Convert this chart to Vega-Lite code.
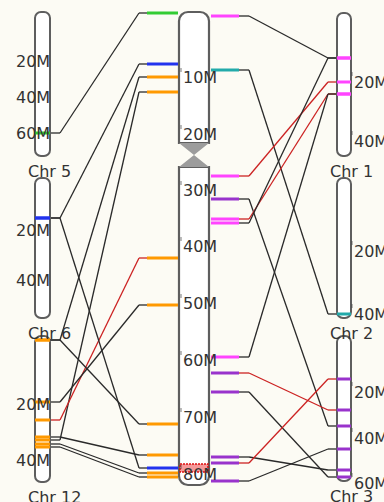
{
"$schema": "https://vega.github.io/schema/vega-lite/v6.json",
"width": 384, "height": 502,
"autosize": {"type": "fit", "contains": "padding"},
"padding": 0,
"background": "#fcfbf4",
"config": {"view": {"stroke": null}, "text": {"font": "DejaVu Sans"}},
"datasets": {
"chroms": [
{"name": "Chr 5", "col": "L", "start": 12, "end": 156},
{"name": "Chr 6", "col": "L", "start": 178, "end": 318},
{"name": "Chr 12", "col": "L", "start": 336, "end": 482},
{"name": "Chr 1", "col": "R", "start": 13, "end": 156},
{"name": "Chr 2", "col": "R", "start": 178, "end": 318},
{"name": "Chr 3", "col": "R", "start": 336, "end": 481}
],
"arms": [{"arm": "p", "start": 12, "end": 143}, {"arm": "q", "start": 167, "end": 485}],
"centro": [{"pos": 155}],
"band": [{"start": 464, "end": 472}],
"links": [
{"side": "L", "c": 13, "o": 133, "chr": "5", "dir": "+"},
{"side": "L", "c": 64, "o": 218, "chr": "6", "dir": "+"},
{"side": "L", "c": 77, "o": 340, "chr": "12", "dir": "+"},
{"side": "L", "c": 92, "o": 440, "chr": "12", "dir": "+"},
{"side": "L", "c": 258, "o": 420, "chr": "12", "dir": "-"},
{"side": "L", "c": 305, "o": 402, "chr": "12", "dir": "+"},
{"side": "L", "c": 424, "o": 340, "chr": "12", "dir": "+"},
{"side": "L", "c": 455, "o": 437, "chr": "12", "dir": "+"},
{"side": "L", "c": 468, "o": 218, "chr": "6", "dir": "+"},
{"side": "L", "c": 473, "o": 444, "chr": "12", "dir": "+"},
{"side": "L", "c": 477, "o": 447, "chr": "12", "dir": "+"},
{"side": "R", "c": 16, "o": 58, "chr": "1", "dir": "+"},
{"side": "R", "c": 70, "o": 314, "chr": "2", "dir": "+"},
{"side": "R", "c": 176, "o": 82, "chr": "1", "dir": "-"},
{"side": "R", "c": 199, "o": 426, "chr": "3", "dir": "+"},
{"side": "R", "c": 219, "o": 94, "chr": "1", "dir": "-"},
{"side": "R", "c": 223, "o": 58, "chr": "1", "dir": "+"},
{"side": "R", "c": 357, "o": 94, "chr": "1", "dir": "+"},
{"side": "R", "c": 373, "o": 410, "chr": "3", "dir": "-"},
{"side": "R", "c": 392, "o": 477, "chr": "3", "dir": "+"},
{"side": "R", "c": 457, "o": 470, "chr": "3", "dir": "+"},
{"side": "R", "c": 463, "o": 379, "chr": "3", "dir": "-"},
{"side": "R", "c": 481, "o": 449, "chr": "3", "dir": "+"}
],
"ticks": [
{"col": "C", "y": 78, "label": "10M"}, {"col": "C", "y": 135, "label": "20M"},
{"col": "C", "y": 191, "label": "30M"}, {"col": "C", "y": 247, "label": "40M"},
{"col": "C", "y": 304, "label": "50M"}, {"col": "C", "y": 361, "label": "60M"},
{"col": "C", "y": 418, "label": "70M"}, {"col": "C", "y": 475, "label": "80M"},
{"col": "L", "y": 62, "label": "20M"}, {"col": "L", "y": 98, "label": "40M"}, {"col": "L", "y": 134, "label": "60M"},
{"col": "L", "y": 231, "label": "20M"}, {"col": "L", "y": 281, "label": "40M"},
{"col": "L", "y": 405, "label": "20M"}, {"col": "L", "y": 461, "label": "40M"},
{"col": "R", "y": 83, "label": "20M"}, {"col": "R", "y": 142, "label": "40M"},
{"col": "R", "y": 252, "label": "20M"}, {"col": "R", "y": 315, "label": "40M"},
{"col": "R", "y": 393, "label": "20M"}, {"col": "R", "y": 439, "label": "40M"}, {"col": "R", "y": 484, "label": "60M"}
]
},
"layer": [
{"data": {"name": "links"}, "transform": [{"filter": "datum.side === 'L'"}],
 "mark": {"type": "rule", "strokeWidth": 1.3},
 "encoding": {
  "x": {"datum": 139, "type": "quantitative", "scale": {"domain": [0, 384], "nice": false, "zero": false}, "axis": null},
  "x2": {"datum": 60},
  "y": {"field": "c", "type": "quantitative", "scale": {"domain": [0, 502], "nice": false, "zero": false, "reverse": true}, "axis": null},
  "y2": {"field": "o"},
  "stroke": {"field": "dir", "type": "nominal", "scale": {"domain": ["+", "-"], "range": ["#2a2a2a", "#cc2222"]}, "legend": null}}},
{"data": {"name": "links"}, "transform": [{"filter": "datum.side === 'L'"}],
 "mark": {"type": "rule", "strokeWidth": 1.3},
 "encoding": {
  "x": {"datum": 139, "type": "quantitative", "scale": {"domain": [0, 384], "nice": false, "zero": false}, "axis": null},
  "x2": {"datum": 148},
  "y": {"field": "c", "type": "quantitative", "scale": {"domain": [0, 502], "nice": false, "zero": false, "reverse": true}, "axis": null},
  "stroke": {"field": "dir", "type": "nominal", "scale": {"domain": ["+", "-"], "range": ["#2a2a2a", "#cc2222"]}, "legend": null}}},
{"data": {"name": "links"}, "transform": [{"filter": "datum.side === 'L'"}],
 "mark": {"type": "rule", "strokeWidth": 1.3},
 "encoding": {
  "x": {"datum": 49, "type": "quantitative", "scale": {"domain": [0, 384], "nice": false, "zero": false}, "axis": null},
  "x2": {"datum": 60},
  "y": {"field": "o", "type": "quantitative", "scale": {"domain": [0, 502], "nice": false, "zero": false, "reverse": true}, "axis": null},
  "stroke": {"field": "dir", "type": "nominal", "scale": {"domain": ["+", "-"], "range": ["#2a2a2a", "#cc2222"]}, "legend": null}}},
{"data": {"name": "links"}, "transform": [{"filter": "datum.side === 'R'"}],
 "mark": {"type": "rule", "strokeWidth": 1.3},
 "encoding": {
  "x": {"datum": 249, "type": "quantitative", "scale": {"domain": [0, 384], "nice": false, "zero": false}, "axis": null},
  "x2": {"datum": 328},
  "y": {"field": "c", "type": "quantitative", "scale": {"domain": [0, 502], "nice": false, "zero": false, "reverse": true}, "axis": null},
  "y2": {"field": "o"},
  "stroke": {"field": "dir", "type": "nominal", "scale": {"domain": ["+", "-"], "range": ["#2a2a2a", "#cc2222"]}, "legend": null}}},
{"data": {"name": "links"}, "transform": [{"filter": "datum.side === 'R'"}],
 "mark": {"type": "rule", "strokeWidth": 1.3},
 "encoding": {
  "x": {"datum": 239, "type": "quantitative", "scale": {"domain": [0, 384], "nice": false, "zero": false}, "axis": null},
  "x2": {"datum": 249},
  "y": {"field": "c", "type": "quantitative", "scale": {"domain": [0, 502], "nice": false, "zero": false, "reverse": true}, "axis": null},
  "stroke": {"field": "dir", "type": "nominal", "scale": {"domain": ["+", "-"], "range": ["#2a2a2a", "#cc2222"]}, "legend": null}}},
{"data": {"name": "links"}, "transform": [{"filter": "datum.side === 'R'"}],
 "mark": {"type": "rule", "strokeWidth": 1.3},
 "encoding": {
  "x": {"datum": 328, "type": "quantitative", "scale": {"domain": [0, 384], "nice": false, "zero": false}, "axis": null},
  "x2": {"datum": 338},
  "y": {"field": "o", "type": "quantitative", "scale": {"domain": [0, 502], "nice": false, "zero": false, "reverse": true}, "axis": null},
  "stroke": {"field": "dir", "type": "nominal", "scale": {"domain": ["+", "-"], "range": ["#2a2a2a", "#cc2222"]}, "legend": null}}},
{"data": {"name": "chroms"}, "transform": [{"filter": "datum.col === 'L'"}],
 "mark": {"type": "rect", "fill": "#ffffff", "stroke": "#5e5e5e", "strokeWidth": 2, "cornerRadius": 6},
 "encoding": {
  "x": {"datum": 35, "type": "quantitative", "scale": {"domain": [0, 384], "nice": false, "zero": false}, "axis": null},
  "x2": {"datum": 50},
  "y": {"field": "start", "type": "quantitative", "scale": {"domain": [0, 502], "nice": false, "zero": false, "reverse": true}, "axis": null},
  "y2": {"field": "end"}}},
{"data": {"name": "chroms"}, "transform": [{"filter": "datum.col === 'R'"}],
 "mark": {"type": "rect", "fill": "#ffffff", "stroke": "#5e5e5e", "strokeWidth": 2, "cornerRadius": 6},
 "encoding": {
  "x": {"datum": 337, "type": "quantitative", "scale": {"domain": [0, 384], "nice": false, "zero": false}, "axis": null},
  "x2": {"datum": 351},
  "y": {"field": "start", "type": "quantitative", "scale": {"domain": [0, 502], "nice": false, "zero": false, "reverse": true}, "axis": null},
  "y2": {"field": "end"}}},
{"data": {"name": "arms"}, "transform": [{"filter": "datum.arm === 'p'"}],
 "mark": {"type": "rect", "fill": "#ffffff", "stroke": "#5e5e5e", "strokeWidth": 2.2, "cornerRadiusTopLeft": 9, "cornerRadiusTopRight": 9},
 "encoding": {
  "x": {"datum": 179, "type": "quantitative", "scale": {"domain": [0, 384], "nice": false, "zero": false}, "axis": null},
  "x2": {"datum": 209},
  "y": {"field": "start", "type": "quantitative", "scale": {"domain": [0, 502], "nice": false, "zero": false, "reverse": true}, "axis": null},
  "y2": {"field": "end"}}},
{"data": {"name": "arms"}, "transform": [{"filter": "datum.arm === 'q'"}],
 "mark": {"type": "rect", "fill": "#ffffff", "stroke": "#5e5e5e", "strokeWidth": 2.2, "cornerRadiusBottomLeft": 9, "cornerRadiusBottomRight": 9},
 "encoding": {
  "x": {"datum": 179, "type": "quantitative", "scale": {"domain": [0, 384], "nice": false, "zero": false}, "axis": null},
  "x2": {"datum": 209},
  "y": {"field": "start", "type": "quantitative", "scale": {"domain": [0, 502], "nice": false, "zero": false, "reverse": true}, "axis": null},
  "y2": {"field": "end"}}},
{"data": {"name": "centro"},
 "mark": {"type": "point", "shape": "M-1,-0.8L1,-0.8L0,0L1,0.8L-1,0.8L0,0Z", "size": 900, "filled": true, "color": "#9c9c9c", "opacity": 1, "strokeWidth": 0},
 "encoding": {
  "x": {"datum": 194, "type": "quantitative", "scale": {"domain": [0, 384], "nice": false, "zero": false}, "axis": null},
  "y": {"field": "pos", "type": "quantitative", "scale": {"domain": [0, 502], "nice": false, "zero": false, "reverse": true}, "axis": null}}},
{"data": {"name": "band"},
 "mark": {"type": "rect", "fill": "#ee5555", "fillOpacity": 0.6, "stroke": "#dd1111", "strokeWidth": 1.5, "strokeDash": [2, 1]},
 "encoding": {
  "x": {"datum": 180, "type": "quantitative", "scale": {"domain": [0, 384], "nice": false, "zero": false}, "axis": null},
  "x2": {"datum": 208},
  "y": {"field": "start", "type": "quantitative", "scale": {"domain": [0, 502], "nice": false, "zero": false, "reverse": true}, "axis": null},
  "y2": {"field": "end"}}},
{"data": {"name": "links"}, "transform": [{"filter": "datum.side === 'L'"}],
 "mark": {"type": "rule", "strokeWidth": 3},
 "encoding": {
  "x": {"datum": 147, "type": "quantitative", "scale": {"domain": [0, 384], "nice": false, "zero": false}, "axis": null},
  "x2": {"datum": 178},
  "y": {"field": "c", "type": "quantitative", "scale": {"domain": [0, 502], "nice": false, "zero": false, "reverse": true}, "axis": null},
  "color": {"field": "chr", "type": "nominal", "scale": {"domain": ["5", "6", "12", "1", "2", "3"], "range": ["#33cc33", "#2233ee", "#ff9900", "#ff44ff", "#22aaaa", "#9933cc"]}, "legend": null}}},
{"data": {"name": "links"}, "transform": [{"filter": "datum.side === 'R'"}],
 "mark": {"type": "rule", "strokeWidth": 3},
 "encoding": {
  "x": {"datum": 211, "type": "quantitative", "scale": {"domain": [0, 384], "nice": false, "zero": false}, "axis": null},
  "x2": {"datum": 239},
  "y": {"field": "c", "type": "quantitative", "scale": {"domain": [0, 502], "nice": false, "zero": false, "reverse": true}, "axis": null},
  "color": {"field": "chr", "type": "nominal", "scale": {"domain": ["5", "6", "12", "1", "2", "3"], "range": ["#33cc33", "#2233ee", "#ff9900", "#ff44ff", "#22aaaa", "#9933cc"]}, "legend": null}}},
{"data": {"name": "links"}, "transform": [{"filter": "datum.side === 'L'"}],
 "mark": {"type": "rule", "strokeWidth": 3},
 "encoding": {
  "x": {"datum": 35, "type": "quantitative", "scale": {"domain": [0, 384], "nice": false, "zero": false}, "axis": null},
  "x2": {"datum": 50},
  "y": {"field": "o", "type": "quantitative", "scale": {"domain": [0, 502], "nice": false, "zero": false, "reverse": true}, "axis": null},
  "color": {"field": "chr", "type": "nominal", "scale": {"domain": ["5", "6", "12", "1", "2", "3"], "range": ["#33cc33", "#2233ee", "#ff9900", "#ff44ff", "#22aaaa", "#9933cc"]}, "legend": null}}},
{"data": {"name": "links"}, "transform": [{"filter": "datum.side === 'R'"}],
 "mark": {"type": "rule", "strokeWidth": 3},
 "encoding": {
  "x": {"datum": 337, "type": "quantitative", "scale": {"domain": [0, 384], "nice": false, "zero": false}, "axis": null},
  "x2": {"datum": 351},
  "y": {"field": "o", "type": "quantitative", "scale": {"domain": [0, 502], "nice": false, "zero": false, "reverse": true}, "axis": null},
  "color": {"field": "chr", "type": "nominal", "scale": {"domain": ["5", "6", "12", "1", "2", "3"], "range": ["#33cc33", "#2233ee", "#ff9900", "#ff44ff", "#22aaaa", "#9933cc"]}, "legend": null}}},
{"data": {"name": "ticks"}, "transform": [{"filter": "datum.col === 'C'"}],
 "mark": {"type": "text", "align": "left", "baseline": "middle", "fontSize": 16, "fill": "#333333", "clip": true},
 "encoding": {
  "x": {"datum": 183, "type": "quantitative", "scale": {"domain": [0, 384], "nice": false, "zero": false}, "axis": null},
  "y": {"field": "y", "type": "quantitative", "scale": {"domain": [0, 502], "nice": false, "zero": false, "reverse": true}, "axis": null},
  "text": {"field": "label"}}},
{"data": {"name": "ticks"}, "transform": [{"filter": "datum.col === 'L'"}],
 "mark": {"type": "text", "align": "left", "baseline": "middle", "fontSize": 16, "fill": "#333333", "clip": true},
 "encoding": {
  "x": {"datum": 16, "type": "quantitative", "scale": {"domain": [0, 384], "nice": false, "zero": false}, "axis": null},
  "y": {"field": "y", "type": "quantitative", "scale": {"domain": [0, 502], "nice": false, "zero": false, "reverse": true}, "axis": null},
  "text": {"field": "label"}}},
{"data": {"name": "ticks"}, "transform": [{"filter": "datum.col === 'R'"}],
 "mark": {"type": "text", "align": "left", "baseline": "middle", "fontSize": 16, "fill": "#333333", "clip": true},
 "encoding": {
  "x": {"datum": 354, "type": "quantitative", "scale": {"domain": [0, 384], "nice": false, "zero": false}, "axis": null},
  "y": {"field": "y", "type": "quantitative", "scale": {"domain": [0, 502], "nice": false, "zero": false, "reverse": true}, "axis": null},
  "text": {"field": "label"}}},
{"data": {"name": "ticks"}, "transform": [{"filter": "datum.col === 'C'"}],
 "mark": {"type": "point", "shape": "M0,-1L0,1", "size": 16, "filled": false, "stroke": "#444444", "strokeWidth": 1, "yOffset": -8},
 "encoding": {
  "x": {"datum": 181, "type": "quantitative", "scale": {"domain": [0, 384], "nice": false, "zero": false}, "axis": null},
  "y": {"field": "y", "type": "quantitative", "scale": {"domain": [0, 502], "nice": false, "zero": false, "reverse": true}, "axis": null}}},
{"data": {"name": "ticks"}, "transform": [{"filter": "datum.col === 'R'"}],
 "mark": {"type": "point", "shape": "M0,-1L0,1", "size": 16, "filled": false, "stroke": "#444444", "strokeWidth": 1, "yOffset": -9},
 "encoding": {
  "x": {"datum": 352, "type": "quantitative", "scale": {"domain": [0, 384], "nice": false, "zero": false}, "axis": null},
  "y": {"field": "y", "type": "quantitative", "scale": {"domain": [0, 502], "nice": false, "zero": false, "reverse": true}, "axis": null}}},
{"data": {"name": "chroms"}, "transform": [{"filter": "datum.col === 'L'"}],
 "mark": {"type": "text", "align": "left", "baseline": "middle", "fontSize": 16, "fill": "#333333", "dy": 16, "clip": true},
 "encoding": {
  "x": {"datum": 28, "type": "quantitative", "scale": {"domain": [0, 384], "nice": false, "zero": false}, "axis": null},
  "y": {"field": "end", "type": "quantitative", "scale": {"domain": [0, 502], "nice": false, "zero": false, "reverse": true}, "axis": null},
  "text": {"field": "name"}}},
{"data": {"name": "chroms"}, "transform": [{"filter": "datum.col === 'R'"}],
 "mark": {"type": "text", "align": "left", "baseline": "middle", "fontSize": 16, "fill": "#333333", "dy": 16, "clip": true},
 "encoding": {
  "x": {"datum": 330, "type": "quantitative", "scale": {"domain": [0, 384], "nice": false, "zero": false}, "axis": null},
  "y": {"field": "end", "type": "quantitative", "scale": {"domain": [0, 502], "nice": false, "zero": false, "reverse": true}, "axis": null},
  "text": {"field": "name"}}}
]
}
